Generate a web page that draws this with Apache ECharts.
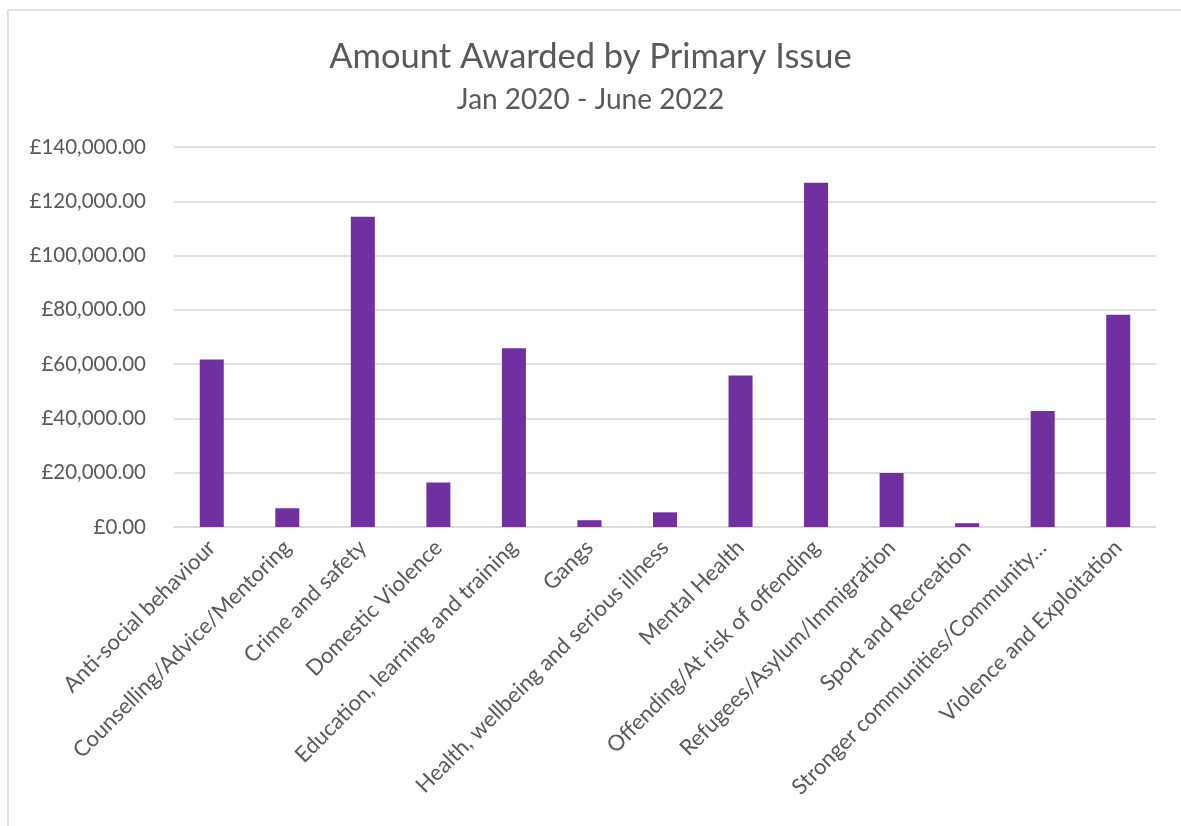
<!DOCTYPE html>
<html>
<head>
<meta charset="utf-8">
<script src="https://cdn.jsdelivr.net/npm/echarts@6/dist/echarts.min.js"></script>
<style>
html,body{margin:0;padding:0;background:#fff;}
#chart{width:1181px;height:826px;}
</style>
</head>
<body>
<div id="chart"></div>
<script>
const categories = [
  "Anti-social behaviour",
  "Counselling/Advice/Mentoring",
  "Crime and safety",
  "Domestic Violence",
  "Education, learning and training",
  "Gangs",
  "Health, wellbeing and serious illness",
  "Mental Health",
  "Offending/At risk of offending",
  "Refugees/Asylum/Immigration",
  "Sport and Recreation",
  "Stronger communities/Community\u2026",
  "Violence and Exploitation"
];
const amounts = [61700, 6900, 114300, 16400, 65900, 2500, 5400, 55800, 126800, 19900, 1400, 42700, 78200];
const titleText = "Amount Awarded by Primary Issue";
const subtitleText = "Jan 2020 - June 2022";

function fmtGBP(v){
  const s = Math.round(v).toString().replace(/\B(?=(\d{3})+(?!\d))/g, ",");
  return "\u00a3" + s + ".00";
}

const FONT = "Lato";
const chart = echarts.init(document.getElementById('chart'));
chart.setOption({
  backgroundColor: '#ffffff',
  animation: false,
  textStyle: { fontFamily: FONT },
  title: [
    { text: titleText, left: 'center', top: 34,
      textStyle: { fontFamily: FONT, fontSize: 34.5, fontWeight: 'normal', color: '#595959' } },
    { text: subtitleText, left: 'center', top: 81,
      textStyle: { fontFamily: FONT, fontSize: 28, fontWeight: 'normal', color: '#595959' } }
  ],
  graphic: [
    { type: 'line', shape: { x1: 8, y1: 10, x2: 1181, y2: 10 }, style: { stroke: '#d9d9d9', lineWidth: 1.5 } },
    { type: 'line', shape: { x1: 8, y1: 10, x2: 8, y2: 826 }, style: { stroke: '#d9d9d9', lineWidth: 1.5 } }
  ],
  grid: { left: 174, right: 25, top: 147, bottom: 299, containLabel: false },
  xAxis: {
    type: 'category',
    data: categories,
    axisLine: { show: true, lineStyle: { color: '#d9d9d9', width: 1.5 } },
    axisTick: { show: false },
    axisLabel: { interval: 0, rotate: 45, margin: 17, color: '#595959', fontSize: 22, fontFamily: FONT }
  },
  yAxis: {
    type: 'value',
    min: 0, max: 140000, interval: 20000,
    axisLine: { show: false },
    axisTick: { show: false },
    splitLine: { lineStyle: { color: '#d9d9d9', width: 1.5 } },
    axisLabel: { color: '#595959', fontSize: 20.5, fontFamily: FONT, margin: 28, formatter: fmtGBP }
  },
  series: [{
    type: 'bar',
    data: amounts,
    barWidth: 24,
    itemStyle: { color: '#7030A0' }
  }]
});
</script>
</body>
</html>
